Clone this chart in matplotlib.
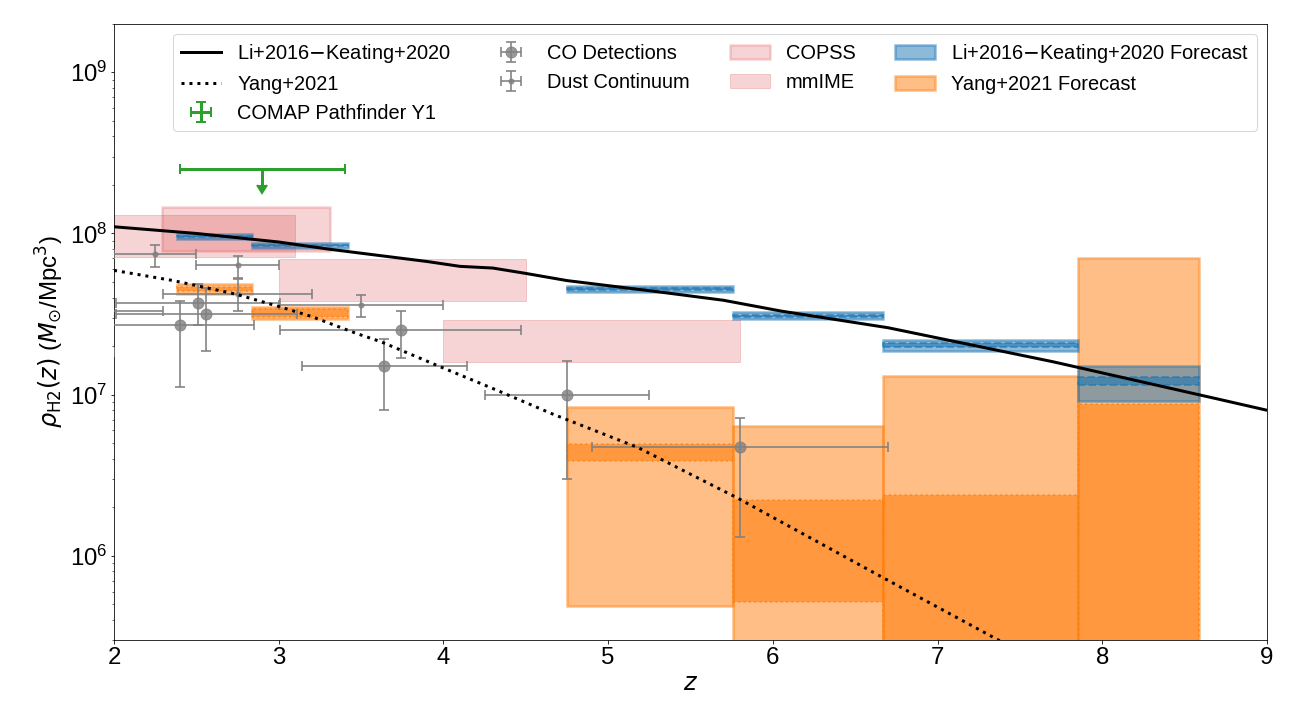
import matplotlib
matplotlib.use('Agg')
import numpy as np
import matplotlib.pyplot as plt

plt.rcParams['font.family'] = ['Liberation Sans', 'DejaVu Sans']

# model curves
li_z = [2.0, 2.5, 3.0, 3.3, 3.9, 4.1, 4.3, 4.5, 4.75, 5.3, 5.7, 6.05, 6.7, 7.7, 8.7, 9.0]
li_rho = [1.1e8, 1.0e8, 8.85e7, 8.0e7, 6.7e7, 6.25e7, 6.1e7, 5.65e7, 5.1e7, 4.35e7,
          3.85e7, 3.3e7, 2.6e7, 1.6e7, 9.4e6, 8.0e6]
yang_z = [2.0, 2.36, 2.74, 3.01, 3.2, 3.47, 3.62, 3.98, 4.32, 4.66, 5.18, 5.79, 6.66, 7.37, 8.0, 9.0]
yang_rho = [5.9e7, 5.1e7, 4.2e7, 3.5e7, 3.05e7, 2.4e7, 2.13e7, 1.49e7, 1.07e7, 7.6e6,
            4.7e6, 2.27e6, 7.4e5, 3.0e5, 1.4e5, 4e4]

# COMAP pathfinder upper limit
comap_z = [2.9]
comap_zerr = [0.5]
comap_rho = [2.5e8]
comap_arrow = [5e7]

# CO detections (yerr as lower / upper distances)
co_z = [2.40, 2.51, 2.56, 3.64, 3.74, 4.75, 5.80, 1.70]
co_zerr = [0.45, 0.5, 0.55, 0.5, 0.73, 0.5, 0.9, 0.3]
co_rho = [2.7e7, 3.68e7, 3.16e7, 1.5e7, 2.51e7, 1.0e7, 4.74e6, 1.84e7]
co_err_lo = [1.58e7, 0.98e7, 1.3e7, 0.7e7, 0.82e7, 0.7e7, 3.43e6, 0.5e7]
co_err_hi = [1.12e7, 1.15e7, 1.4e7, 0.71e7, 0.79e7, 0.61e7, 2.46e6, 0.5e7]

# dust continuum
dust_z = [2.25, 2.75, 2.75, 3.5, 1.8]
dust_zerr = [0.25, 0.25, 0.45, 0.5, 0.5]
dust_rho = [7.45e7, 6.37e7, 4.2e7, 3.6e7, 3.3e7]
dust_err_lo = [1.25e7, 1.07e7, 0.9e7, 0.56e7, 0.5e7]
dust_err_hi = [1.02e7, 0.88e7, 1.0e7, 0.55e7, 0.5e7]

# COPSS / mmIME boxes: z range and rho range
copss_zlo, copss_zhi = [2.29], [3.31]
copss_lo, copss_hi = [7.8e7], [1.46e8]
mmime_zlo = [1.9, 3.0, 4.0]
mmime_zhi = [3.1, 4.5, 5.8]
mmime_lo = [7.18e7, 3.8e7, 1.6e7]
mmime_hi = [1.30e8, 6.9e7, 2.9e7]

# forecasts
fc_zlo = [2.38, 2.84, 4.75, 5.76, 6.67, 7.85]
fc_zhi = [2.84, 3.42, 5.76, 6.67, 7.85, 8.59]
li_fc_lo = [9.2e7, 8.09e7, 4.31e7, 2.93e7, 1.87e7, 9.1e6]
li_fc_hi = [9.93e7, 8.69e7, 4.70e7, 3.24e7, 2.18e7, 1.51e7]
li_in_lo = [9.45e7, 8.3e7, 4.45e7, 3.03e7, 1.97e7, 1.15e7]
li_in_hi = [9.65e7, 8.45e7, 4.57e7, 3.13e7, 2.08e7, 1.28e7]
yang_fc_lo = [4.2e7, 2.93e7, 4.9e5, 1e5, 1e5, 1e5]
yang_fc_hi = [4.83e7, 3.51e7, 8.4e6, 6.4e6, 1.3e7, 7.0e7]
yang_in_lo = [4.39e7, 3.04e7, 3.86e6, 5.2e5, 1e5, 1e5]
yang_in_hi = [4.67e7, 3.4e7, 4.92e6, 2.21e6, 2.38e6, 8.7e6]


def boxes(ax, zlo, zhi, lo, hi, c, **kw):
    zlo, zhi, lo, hi = map(np.array, (zlo, zhi, lo, hi))
    return ax.bar(zlo, hi - lo, bottom=lo, width=zhi - zlo, align='edge',
                  facecolor=c, edgecolor=c, **kw)


fig, ax = plt.subplots(figsize=(18, 10), dpi=72)
fig.subplots_adjust(left=0.088, right=0.9776, bottom=0.111, top=0.967)
ax.set_yscale('log')

h_copss = boxes(ax, copss_zlo, copss_zhi, copss_lo, copss_hi, 'tab:red', alpha=0.2,
                linewidth=2.5, zorder=1, label='COPSS')
h_mmime = boxes(ax, mmime_zlo, mmime_zhi, mmime_lo, mmime_hi, 'tab:red', alpha=0.2,
                linewidth=1, zorder=1, label='mmIME')

h_yfc = boxes(ax, fc_zlo, fc_zhi, yang_fc_lo, yang_fc_hi, 'tab:orange', alpha=0.5,
              linewidth=2.5, zorder=2, label='Yang+2021 Forecast')
boxes(ax, fc_zlo, fc_zhi, yang_in_lo, yang_in_hi, 'tab:orange', alpha=0.6,
      linewidth=2, linestyle=':', zorder=2)
h_lfc = boxes(ax, fc_zlo, fc_zhi, li_fc_lo, li_fc_hi, 'tab:blue', alpha=0.5,
              linewidth=2.5, zorder=3, label='Li+2016$-$Keating+2020 Forecast')
boxes(ax, fc_zlo, fc_zhi, li_in_lo, li_in_hi, 'tab:blue', alpha=0.6,
      linewidth=2, linestyle='--', zorder=3)

h_co = ax.errorbar(co_z, co_rho, xerr=co_zerr, yerr=[co_err_lo, co_err_hi], fmt='o',
                   color='gray', alpha=0.8, markersize=11, elinewidth=2, capsize=5,
                   capthick=2, zorder=4, label='CO Detections')
h_dust = ax.errorbar(dust_z, dust_rho, xerr=dust_zerr, yerr=[dust_err_lo, dust_err_hi], fmt='o',
                     color='gray', alpha=0.8, markersize=5, elinewidth=2, capsize=5,
                     capthick=2, zorder=4, label='Dust Continuum')

ax.errorbar(comap_z, comap_rho, xerr=comap_zerr, yerr=comap_arrow, uplims=True, fmt='none',
            color='tab:green', elinewidth=3, capsize=5, capthick=2, zorder=5)
h_comap = ax.errorbar([np.nan], [np.nan], xerr=[0.1], yerr=[0.1], fmt='none',
                      color='tab:green', elinewidth=3, capsize=5, capthick=2,
                      label='COMAP Pathfinder Y1')

h_li, = ax.plot(li_z, li_rho, color='k', lw=3, zorder=6, label='Li+2016$-$Keating+2020')
h_yang, = ax.plot(yang_z, yang_rho, color='k', lw=3, ls=':', zorder=6, label='Yang+2021')

ax.set_xlim(2, 9)
ax.set_ylim(3e5, 2e9)
ax.tick_params(labelsize=24)
ax.set_xlabel('$z$', fontsize=24)
ax.set_ylabel(r'$\rho_{\rm H2}(z)$ ($M_{\odot}$/Mpc$^{3}$)', fontsize=24)

handles = [h_li, h_yang, h_comap, h_co, h_dust, h_copss, h_mmime, h_lfc, h_yfc]
labels = [h.get_label() for h in handles]
ax.legend(handles, labels, ncol=4, loc='upper right', fontsize=20)

fig.savefig('out.png', dpi=72)
